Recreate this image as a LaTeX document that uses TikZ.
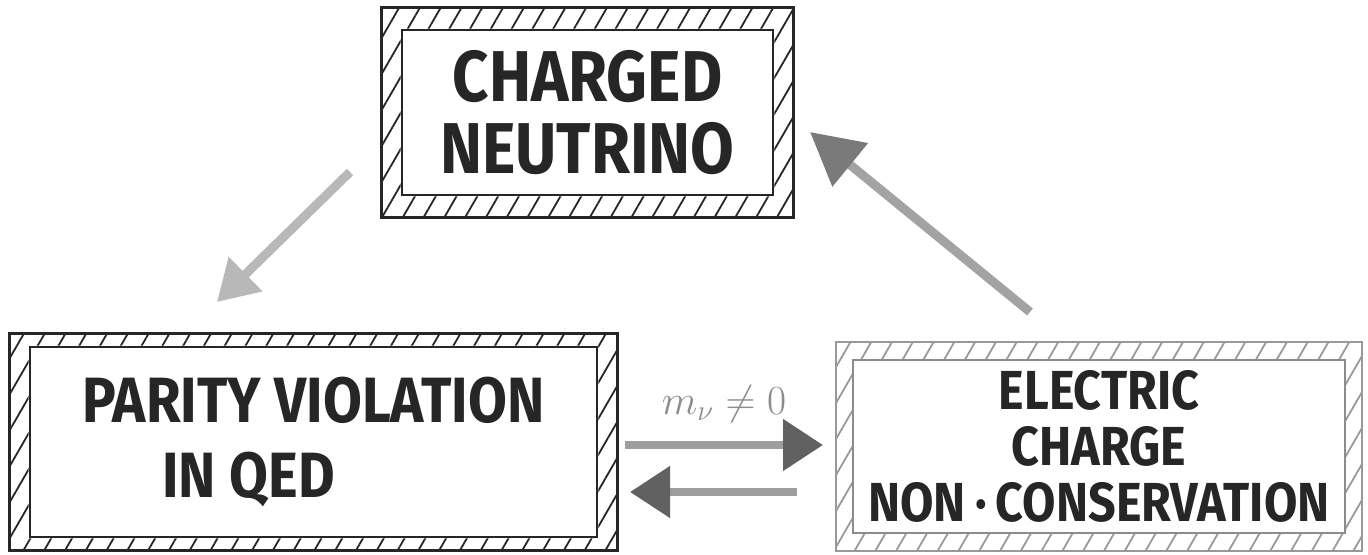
\documentclass[tikz,border=0pt]{standalone}
\usepackage{fontspec}
\newfontfamily\handfont[FakeStretch=0.88]{Fira Sans}
\usetikzlibrary{arrows.meta,patterns.meta,calc}

% hatched double frame round a box node: node, colour, dx, dy
\newcommand{\hatchband}[4]{%
  \path[even odd rule,pattern={Lines[angle=60,distance=9pt,line width=0.9pt]},pattern color=#2]
    ($(#1.north west)+(-#3,-#4)$) rectangle ($(#1.south east)+(#3,#4)$)
    (#1.north west) rectangle (#1.south east);
  \draw[#2,line width=1.3pt] ($(#1.north west)+(-#3,-#4)$) rectangle ($(#1.south east)+(#3,#4)$);
}

\begin{document}
\begin{tikzpicture}[
  x=0.5pt,y=-0.5pt,
  box/.style={rectangle,draw=black!85,line width=1.4pt,fill=white,align=center,
              inner sep=0pt,text=black!85},
  faint/.style={box,draw=black!45,line width=0.9pt},
  arr/.style={-{Triangle[length=20pt,width=23pt]},line width=4.5pt,black!28},
  arrhead/.style={-{Triangle[length=20pt,width=25pt,color=black!62]},line width=4pt,black!38},
  lbl/.style={font=\fontsize{20}{24}\selectfont,text=black!45},
]
\useasboundingbox (0,0) rectangle (1368,555);

% ===== the three boxes =====
\node[box,minimum width=185.5pt,minimum height=82.5pt,
      font=\handfont\bfseries\fontsize{36}{36}\selectfont] (nu) at (587.5,112.5)
  {CHARGED\\NEUTRINO};
\node[box,minimum width=283.5pt,minimum height=95pt,align=left,
      font=\handfont\bfseries\fontsize{32}{37.5}\selectfont] (parity) at (313.5,442)
  {PARITY VIOLATION\\\hspace*{40pt}IN QED};
\node[faint,minimum width=246pt,minimum height=86.5pt,
      font=\handfont\bfseries\fontsize{27.5}{28}\selectfont] (charge) at (1099,446.5)
  {ELECTRIC\\CHARGE\\NON\,·\,CONSERVATION};
\hatchband{nu}{black!85}{19}{21}
\hatchband{parity}{black!85}{19}{12}
\hatchband{charge}{black!40}{16}{17}

% ===== arrow ends =====
\coordinate (ulTail) at (350,172);
\coordinate (ulTip) at (217,302);
\coordinate (urTail) at (1030,312);
\coordinate (urTip) at (810,132);
\coordinate (mFrom) at (625,445);
\coordinate (mTo) at (823,445);
\coordinate (bFrom) at (797,492);
\coordinate (bTo) at (630,492);

\draw[arr] (ulTail) -- (ulTip);
\draw[arr,black!36,-{Triangle[length=26pt,width=27pt,color=black!52]}] (urTail) -- (urTip);
\draw[arrhead] (mFrom) -- node[lbl,above=6pt] {$m_\nu\neq0$} (mTo);
\draw[arrhead] (bFrom) -- (bTo);
\end{tikzpicture}
\end{document}
